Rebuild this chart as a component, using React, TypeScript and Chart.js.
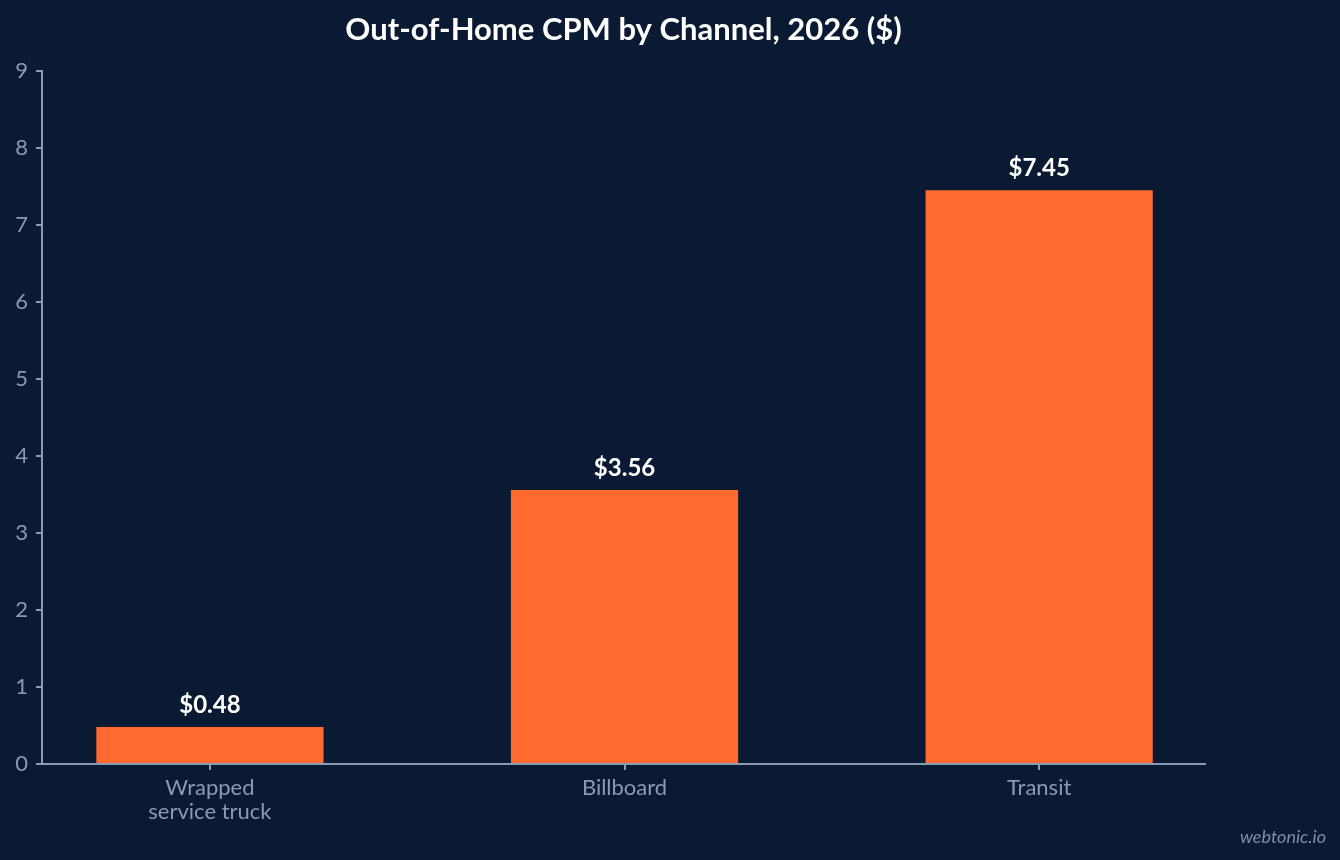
import React, { useEffect, useRef } from "react";
import { Chart, registerables } from "chart.js";

Chart.register(...registerables);

const categories: (string | string[])[] = [["Wrapped", "service truck"], "Billboard", "Transit"];
const cpmValues: number[] = [0.48, 3.56, 7.45];
const valueLabels: string[] = ["$0.48", "$3.56", "$7.45"];
const yTicks: number[] = [0, 1, 2, 3, 4, 5, 6, 7, 8, 9];
const titleText = "Out-of-Home CPM by Channel, 2026 ($)";
const watermarkText = "webtonic.io";

const BG = "#0b1a33";
const BAR = "#ff6b2f";
const AXIS = "#8a9ab4";
const FONT = "Lato, 'Open Sans', sans-serif";

export default function App() {
  const ref = useRef<HTMLCanvasElement | null>(null);

  useEffect(() => {
    document.body.style.margin = "0";
    document.body.style.background = BG;
    const canvas = ref.current;
    if (!canvas) return;

    const overlay = {
      id: "overlay",
      beforeDraw(chart: any) {
        const ctx = chart.ctx;
        ctx.save();
        ctx.fillStyle = BG;
        ctx.fillRect(0, 0, chart.width, chart.height);
        ctx.restore();
      },
      afterDraw(chart: any) {
        const ctx = chart.ctx;
        const area = chart.chartArea;
        ctx.save();
        ctx.fillStyle = "#ffffff";
        ctx.font = `bold 31px ${FONT}`;
        ctx.textAlign = "center";
        ctx.textBaseline = "middle";
        ctx.fillText(titleText, (area.left + area.right) / 2, 30);
        const meta = chart.getDatasetMeta(0);
        ctx.font = `bold 24px ${FONT}`;
        ctx.textBaseline = "alphabetic";
        meta.data.forEach((bar: any, i: number) => {
          ctx.fillText(valueLabels[i], bar.x, bar.y - 14);
        });
        ctx.fillStyle = "#7f8da6";
        ctx.font = `italic 18px ${FONT}`;
        ctx.textAlign = "right";
        ctx.fillText(watermarkText, chart.width - 14, chart.height - 17);
        ctx.restore();
      },
    };

    const chart = new Chart(canvas, {
      type: "bar",
      data: {
        datasets: [
          {
            data: cpmValues.map((v, i) => ({ x: i, y: v })),
            backgroundColor: BAR,
            borderWidth: 0,
            barPercentage: 1,
            categoryPercentage: 0.548,
          },
        ],
      },
      options: {
        responsive: false,
        animation: false,
        layout: { padding: { top: 71, right: 135, left: 0, bottom: 0 } },
        plugins: {
          legend: { display: false },
          title: { display: false },
          tooltip: { enabled: false },
        },
        scales: {
          x: {
            type: "linear",
            min: -0.405,
            max: 2.4,
            offset: false,
            afterBuildTicks(scale: any) {
              scale.ticks = categories.map((_, i) => ({ value: i }));
            },
            grid: {
              offset: false,
              drawOnChartArea: false,
              drawTicks: true,
              tickLength: 6,
              color: AXIS,
              lineWidth: 2,
            },
            border: { display: true, color: AXIS, width: 2 },
            ticks: {
              color: AXIS,
              font: { family: FONT, size: 22, lineHeight: 1.1 },
              padding: 6,
              maxRotation: 0,
              autoSkip: false,
              callback: (v: any) => categories[Math.round(Number(v))] as any,
            },
            afterFit(scale: any) {
              scale.height = 96;
            },
          },
          y: {
            min: 0,
            max: 9,
            afterBuildTicks(scale: any) {
              scale.ticks = yTicks.map((v) => ({ value: v }));
            },
            grid: {
              drawOnChartArea: false,
              drawTicks: true,
              tickLength: 6,
              color: AXIS,
              lineWidth: 2,
            },
            border: { display: true, color: AXIS, width: 2 },
            ticks: {
              color: AXIS,
              font: { family: FONT, size: 22 },
              padding: 8,
            },
            afterFit(scale: any) {
              scale.width = 42;
            },
          },
        },
      },
      plugins: [overlay],
    });

    return () => chart.destroy();
  }, []);

  return (
    <div style={{ position: "fixed", left: 0, top: 0, width: 1340, height: 860, background: BG }}>
      <canvas ref={ref} width={1340} height={860} style={{ width: 1340, height: 860, display: "block" }} />
    </div>
  );
}
